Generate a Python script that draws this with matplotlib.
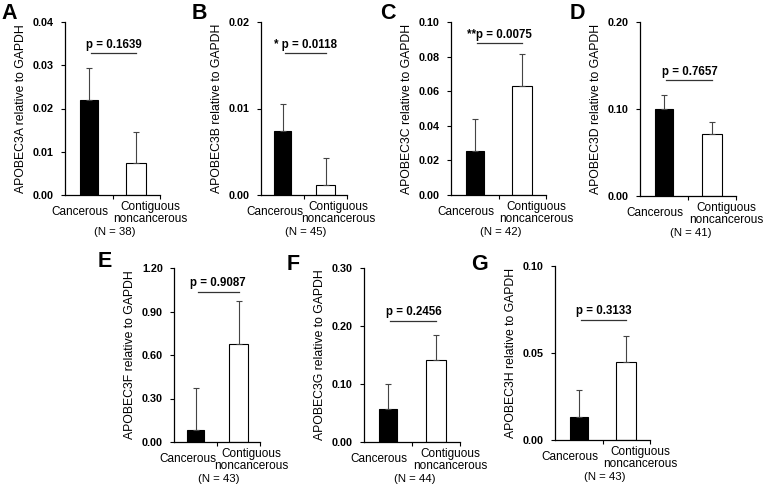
import numpy as np
import matplotlib.pyplot as plt
from matplotlib.transforms import blended_transform_factory

plt.rcParams['font.family'] = ['Liberation Sans', 'DejaVu Sans']

# data
letters = ['A', 'B', 'C', 'D', 'E', 'F', 'G']
genes = ['APOBEC3A', 'APOBEC3B', 'APOBEC3C', 'APOBEC3D', 'APOBEC3F', 'APOBEC3G', 'APOBEC3H']
categories = ['Cancerous', 'Contiguous\nnoncancerous']
cancer_mean = [0.022, 0.0074, 0.0255, 0.100, 0.08, 0.057, 0.0135]
cancer_err = [0.0073, 0.0031, 0.0185, 0.016, 0.295, 0.043, 0.0155]
normal_mean = [0.0075, 0.0011, 0.063, 0.071, 0.675, 0.142, 0.045]
normal_err = [0.0071, 0.0032, 0.0183, 0.014, 0.295, 0.042, 0.015]
p_text = ['p = 0.1639', '* p = 0.0118', '**p = 0.0075', 'p = 0.7657',
          'p = 0.9087', 'p = 0.2456', 'p = 0.3133']
p_line_y = [0.0328, 0.0164, 0.0877, 0.133, 1.037, 0.209, 0.069]
n_values = [38, 45, 42, 41, 43, 44, 43]
y_max = [0.04, 0.02, 0.10, 0.20, 1.20, 0.30, 0.10]
y_step = [0.01, 0.01, 0.02, 0.10, 0.30, 0.10, 0.05]

W, H = 763, 491
fig = plt.figure(figsize=(W / 100, H / 100), dpi=100)

# axes boxes in pixels: left, top, right, bottom
boxes = [(65, 22, 160, 195), (261, 22, 347, 195), (451, 22, 546, 195), (640, 22, 736, 196),
         (174, 268, 260, 442), (364, 268, 460, 442), (555, 266, 650, 440)]
letter_pos = [(1, 3), (192, 3), (380, 3), (570, 3), (98, 251), (287, 254), (471, 254)]

for i in range(7):
    l, t, r, b = boxes[i]
    ax = fig.add_axes([l / W, 1 - b / H, (r - l) / W, (b - t) / H])
    ax.bar(0.5, cancer_mean[i], width=0.38, color='black', edgecolor='black', lw=0.8)
    ax.bar(1.5, normal_mean[i], width=0.42, color='white', edgecolor='black', lw=0.8)
    ax.errorbar([0.5, 1.5], [cancer_mean[i], normal_mean[i]],
                yerr=[[0, 0], [cancer_err[i], normal_err[i]]],
                fmt='none', ecolor='#444444', elinewidth=0.8, capsize=2.5, capthick=0.8)
    ax.plot([0.55, 1.5], [p_line_y[i]] * 2, color='#333333', lw=0.9)
    ax.text(1.03, p_line_y[i] + y_max[i] * 0.015, p_text[i], ha='center', va='bottom',
            fontsize=8.3, fontweight='bold')

    ax.set_xlim(0, 2)
    ax.set_ylim(0, y_max[i])
    ticks = np.arange(0, y_max[i] + y_step[i] / 2, y_step[i])
    ax.set_yticks(ticks)
    ax.set_yticklabels(['%.2f' % v for v in ticks], fontsize=7.8, fontweight='bold')
    ax.set_xticks([1, 2])
    ax.set_xticklabels([])
    ax.tick_params(direction='out', length=3, width=0.8, pad=5)
    for s in ['top', 'right']:
        ax.spines[s].set_visible(False)
    for s in ['left', 'bottom']:
        ax.spines[s].set_linewidth(0.9)
    ax.set_ylabel(genes[i] + ' relative to GAPDH', fontsize=8.8, labelpad=4)

    tr = blended_transform_factory(ax.transData, ax.transAxes)
    px = 1.0 / (b - t)
    ax.text(0.32, -11 * px, categories[0], transform=tr, ha='center', va='top', fontsize=8.5)
    ax.text(1.80, -6 * px, categories[1], transform=tr, ha='center', va='top',
            fontsize=8.5, linespacing=0.98)
    ax.text(1.05, -32 * px, '(N = %d)' % n_values[i], transform=tr, ha='center', va='top',
            fontsize=8.2)

    lx, ly = letter_pos[i]
    fig.text(lx / W, 1 - ly / H, letters[i], ha='left', va='top', fontsize=15.5, fontweight='bold')

fig.savefig('out.png', dpi=100)
